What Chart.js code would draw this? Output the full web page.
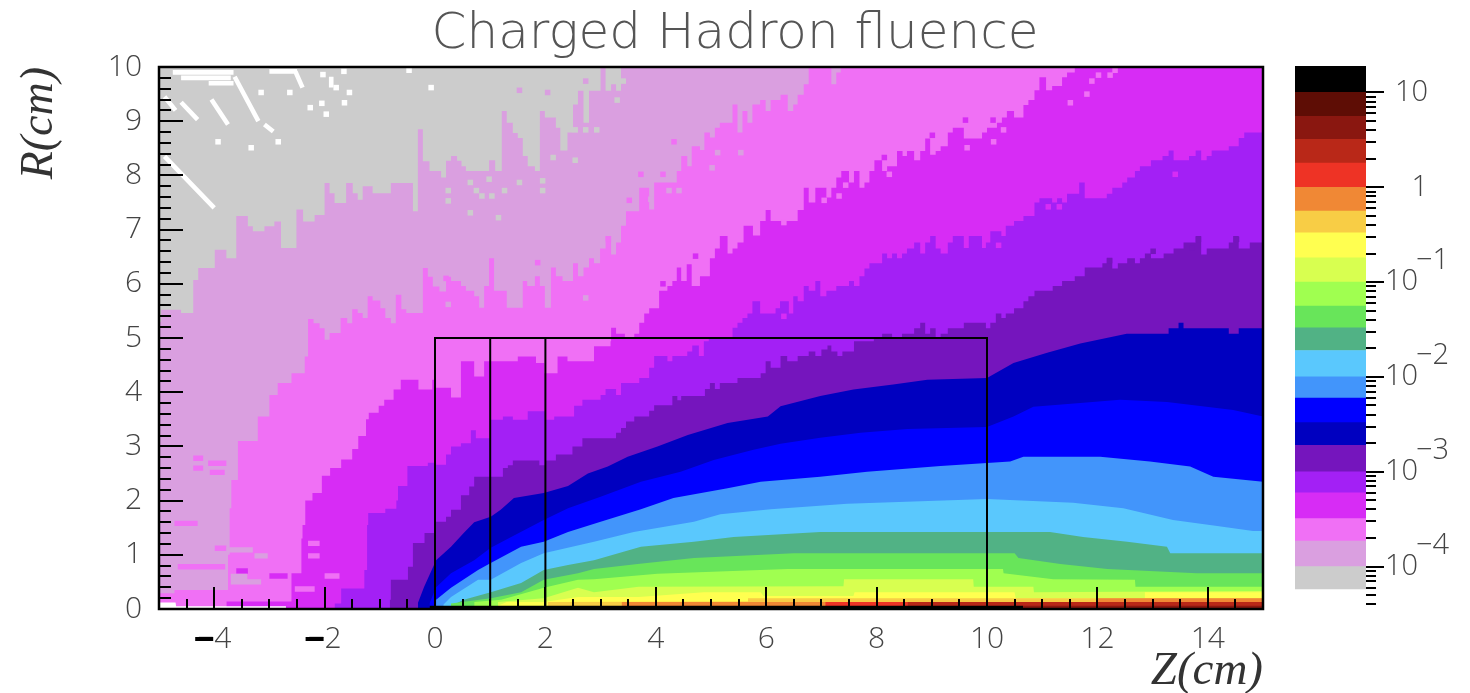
<!DOCTYPE html>
<html><head><meta charset="utf-8">
<style>html,body{margin:0;padding:0;background:#fff;overflow:hidden}
#m,#c{position:absolute;top:0}#m{left:0}#c{left:1270px}</style>
<script src="https://cdn.jsdelivr.net/npm/chart.js@4"></script></head>
<body><canvas id="m" width="1470" height="693"></canvas><canvas id="c" width="200" height="693"></canvas>
<script>
const titleText="Charged Hadron fluence";
const zTickValues=[-4,-2,0,2,4,6,8,10,12,14];
const rTickValues=[0,1,2,3,4,5,6,7,8,9,10];
const zMinorTicks=[-4.5,-3.5,-3,-2.5,-1.5,-1,-0.5,0.5,1,1.5,2.5,3,3.5,4.5,5,5.5,6.5,7,7.5,8.5,9,9.5,10.5,11,11.5,12.5,13,13.5,14.5];
const rMinorTicks=[0.2,0.4,0.6,0.8,1.2,1.4,1.6,1.8,2.2,2.4,2.6,2.8,3.2,3.4,3.6,3.8,4.2,4.4,4.6,4.8,5.2,5.4,5.6,5.8,6.2,6.4,6.6,6.8,7.2,7.4,7.6,7.8,8.2,8.4,8.6,8.8,9.2,9.4,9.6,9.8];

// colour levels, low to high
const levelColors=["#cccccc","#da9fe0","#f070f5","#d72cf5","#a320f5","#7515bd","#0000c0","#0000ff","#4295fb","#5ac8fd","#51b285","#68e55a","#a0ff50","#d8ff50","#ffff50","#f8cd45","#f08835","#ee3325","#b92818","#8a1710","#5e0d05","#000000"];
const levelEdges=[5.8e-5,1e-4,1.86e-4,3.2e-4,6e-4,1e-3,1.9e-3,3.3e-3,6e-3,1e-2,1.9e-2,3.3e-2,5.6e-2,0.1,0.18,0.33,0.56,1,1.8,3.2,5.6,10,19];
const barDecades=[10,1,0.1,0.01,0.001,0.0001];
const barDecadeText=["10","1","10","10","10","10"];
const barDecadeExp=["","","−1","−2","−3","−4"];
const barMinor=[9,8,7,6,5,4,3,2,0.9,0.8,0.7,0.6,0.5,0.4,0.3,0.2,0.09,0.08,0.07,0.06,0.05,0.04,0.03,0.02,0.009,0.008,0.007,0.006,0.005,0.004,0.003,0.002,9e-4,8e-4,7e-4,6e-4,5e-4,4e-4,3e-4,2e-4,9e-5,8e-5,7e-5,6e-5,5e-5,4e-5];

// upper edge R(Z) of each fluence level
const zGray=[-5,15], rGray=[10,10];
const zLilac=[-5,-4.96,-4.6,-4.38,-4.29,-3.99,-3.78,-3.6,-3.39,-3.3,-3.09,-2.91,-2.79,-2.51,-2.39,-2.18,-2.0,-1.91,-1.82,-1.61,-1.49,-1.4,-1.31,-1.13,-0.8,-0.4,-0.31,-0.22,-0.1,0.11,0.2,0.29,0.4,0.48,0.56,0.98,1.09,1.21,1.3,1.41,1.5,1.59,1.68,1.81,1.9,1.99,2.19,2.27,2.4,2.5,2.59,2.69,2.79,3.0,3.09,3.19,3.28,3.37,15];
const rLilac=[5.3,5.52,5.46,6.07,6.29,6.63,6.47,7.25,7.06,6.97,7.06,7.15,6.66,7.37,7.15,7.27,7.86,7.67,7.49,7.86,7.67,7.55,7.8,7.67,7.86,7.34,8.85,8.26,8.08,7.96,8.27,8.36,8.27,8.17,8.08,8.28,8.08,9.19,8.97,8.78,8.69,8.36,8.17,8.08,9.19,9.07,8.88,8.46,8.79,9.31,9.56,8.97,9.56,10,9.56,9.68,9.56,10,10];
const zPink=[-5,-4.72,-3.75,-3.72,-3.69,-3.57,-3.21,-3.0,-2.85,-2.6,-2.36,-2.3,-2.2,-2.09,-2.0,-1.91,-1.71,-1.59,-1.5,-1.4,-1.31,-1.22,-1.13,-0.99,-0.9,-0.8,-0.71,-0.61,-0.52,-0.22,-0.13,-0.04,0.08,0.2,0.29,0.47,0.56,0.71,0.8,0.89,0.98,1.07,1.3,1.59,1.67,1.81,1.9,1.99,2.1,2.19,2.31,2.5,2.59,2.69,2.79,2.88,2.99,3.09,3.19,3.28,3.37,3.46,3.7,3.88,3.97,4.38,4.46,4.57,4.65,4.8,4.88,4.98,5.07,5.16,5.39,5.48,5.57,5.66,5.75,5.89,5.99,6.08,6.26,6.39,6.49,6.57,6.68,6.77,7.18,7.27,7.35,15];
const rPink=[0.29,0.35,1.0,1.86,2.38,3.1,3.55,3.95,4.17,4.35,4.66,5.35,5.27,5.18,4.97,5.09,5.37,5.27,5.53,5.46,5.37,5.77,5.69,5.55,5.37,5.27,5.8,5.53,5.46,6.29,6.13,5.95,5.86,6.13,6.05,5.96,5.87,5.77,5.56,5.96,6.47,5.87,5.56,6.05,5.96,6.14,5.96,5.56,6.3,6.14,6.05,6.38,6.14,6.3,6.47,6.38,6.65,6.88,6.54,6.76,7.07,7.34,7.77,7.37,7.87,8.08,8.36,8.17,8.54,8.47,8.79,8.7,8.88,8.97,9.31,8.79,9.19,8.97,9.31,9.39,9.19,9.39,9.49,9.19,9.31,9.49,9.68,10,9.68,9.9,10,10];
const zMagenta=[-3.78,-2.6,-2.42,-2.4,-2.35,-2.22,-2.05,-1.9,-1.7,-1.5,-1.39,-1.25,-1.2,-1.02,-0.92,-0.75,-0.62,-0.3,-0.05,0.02,0.29,0.47,0.71,0.89,1.29,1.5,1.83,1.98,2.22,2.4,2.88,3.18,3.19,3.28,3.44,3.61,3.7,3.79,3.88,4.06,4.21,4.3,4.38,4.46,4.56,4.65,4.8,4.98,5.07,5.16,5.3,5.39,5.48,5.59,5.76,5.89,5.99,6.08,6.57,6.68,6.77,6.89,7.09,7.18,7.27,7.36,7.5,7.59,7.69,7.78,7.87,7.96,8.1,8.19,8.37,8.47,8.55,8.68,8.79,8.88,8.97,9.07,9.16,9.29,9.38,9.58,9.75,9.91,10.0,10.18,10.27,10.36,10.49,10.66,10.75,10.86,10.95,11.07,11.18,11.36,11.45,11.59,15];
const rMagenta=[0.14,0.66,1.3,1.55,2.0,2.14,2.46,2.6,2.76,2.95,3.19,3.5,3.62,3.75,3.86,4.05,4.23,4.05,4.23,4.08,3.9,4.57,4.29,4.57,4.57,4.66,4.54,4.35,4.66,4.57,4.85,4.94,5.19,5.08,4.99,5.08,5.28,5.45,5.55,5.87,5.96,6.05,6.3,6.05,6.36,5.96,6.14,6.47,6.65,6.88,6.56,6.65,6.76,7.07,6.89,7.16,7.36,7.16,7.36,7.77,7.5,7.77,7.59,7.77,7.96,8.08,7.87,8.08,7.77,7.87,8.08,8.28,8.08,8.17,8.45,8.36,8.45,8.28,8.45,8.68,8.38,8.45,8.54,8.79,8.88,8.68,8.68,8.79,8.88,8.97,9.07,9.19,9.07,9.3,9.39,9.57,9.81,9.57,9.65,9.81,9.9,10,10];
const zViolet=[-1.82,-1.7,-1.28,-1.23,-1.21,-0.9,-0.7,-0.67,-0.5,-0.13,0.02,0.2,0.29,0.47,0.65,0.74,1.01,1.23,1.41,1.68,2.01,2.16,2.52,2.67,3.0,3.09,3.28,3.37,3.7,3.88,3.97,4.21,4.3,4.57,4.66,4.78,4.87,4.96,5.39,5.48,5.57,5.66,5.75,5.89,6.17,6.25,6.41,6.49,6.57,6.68,6.77,6.89,6.98,7.09,7.27,7.5,7.59,7.69,7.78,7.87,8.1,8.19,8.28,8.37,8.46,8.55,8.68,8.79,8.88,8.97,9.07,9.16,9.29,9.38,9.58,9.67,9.91,9.98,10.06,10.26,10.34,10.49,10.66,10.86,10.95,11.18,11.27,11.36,11.45,11.67,11.77,12.17,12.27,12.45,12.54,12.68,12.77,12.97,13.18,13.29,13.38,13.66,13.78,13.88,13.98,14.07,14.38,14.56,14.66,15];
const rViolet=[0.1,0.38,0.72,1.55,1.77,1.85,2.0,2.27,2.64,2.7,2.66,2.85,3.0,3.06,3.3,3.15,3.49,3.55,3.49,3.65,3.49,3.55,3.75,3.86,3.95,4.06,3.95,4.17,4.26,4.45,4.67,4.57,4.67,4.75,4.86,4.67,4.94,5.0,5.19,5.28,5.37,5.45,5.68,5.45,5.55,5.68,5.45,5.77,5.68,5.96,5.87,6.05,5.77,5.87,5.96,6.05,5.96,6.14,6.28,6.38,6.56,6.47,6.56,6.47,6.56,6.65,6.76,6.56,6.76,6.88,6.65,6.56,6.76,6.88,6.66,6.88,6.66,6.76,6.97,6.88,7.07,7.16,7.25,7.5,7.58,7.5,7.58,7.5,7.66,7.87,7.58,7.66,7.77,7.87,7.96,8.08,8.17,8.28,8.36,8.46,8.28,8.36,8.46,8.28,8.36,8.46,8.54,8.69,8.79,8.79];
const zDarkViolet=[-0.82,-0.8,-0.49,-0.4,-0.19,0,0.2,0.29,0.47,0.62,0.71,1.23,1.32,1.41,1.89,2.01,2.19,2.49,2.67,3.28,3.37,3.46,3.61,3.88,3.97,4.3,4.39,4.46,4.89,4.98,5.07,5.16,5.48,5.9,5.99,6.08,6.26,6.38,6.57,6.77,6.89,7.0,7.11,7.18,7.29,7.38,7.59,7.95,8.1,8.28,8.46,8.68,8.79,8.88,8.97,9.07,9.16,9.29,9.58,9.98,10.06,10.16,10.26,10.34,10.49,10.66,10.75,10.86,11.19,11.36,11.59,11.77,12.09,12.17,12.27,12.37,12.54,12.68,12.77,12.86,12.97,13.2,13.38,13.56,13.78,13.88,13.98,14.38,14.46,14.56,14.76,15];
const rDarkViolet=[0.17,0.54,0.78,1.22,1.4,1.61,1.7,1.83,2.1,2.26,2.44,2.6,2.65,2.74,2.65,2.74,2.85,3.0,3.15,3.25,3.34,3.46,3.55,3.66,3.76,3.93,3.85,3.93,4.06,4.17,4.06,4.17,4.26,4.35,4.57,4.45,4.67,4.57,4.67,4.75,4.67,4.79,4.86,4.75,4.67,4.75,4.94,5.0,5.08,5.0,5.08,5.18,5.28,5.08,5.18,5.0,5.08,5.18,5.28,5.18,5.28,5.45,5.37,5.45,5.55,5.68,5.77,5.87,5.96,6.05,6.14,6.3,6.38,6.47,6.28,6.38,6.47,6.38,6.47,6.56,6.47,6.56,6.65,6.76,6.88,6.54,6.65,6.76,6.88,6.65,6.76,6.76];
const zNavy=[-0.31,-0.2,0.02,0.29,0.52,0.71,1.01,1.19,1.43,1.97,2.41,2.77,3.13,3.49,4.03,4.58,5.3,6.03,6.26,6.98,7.58,8.3,8.92,10,10.48,11.09,11.69,12.53,13.29,13.29,13.47,13.47,13.56,13.56,14.38,14.38,14.56,14.56,15];
const rNavy=[0.11,0.4,0.9,1.15,1.4,1.6,1.7,1.83,2.05,2.14,2.27,2.5,2.63,2.81,3.0,3.21,3.43,3.55,3.74,3.93,4.05,4.14,4.23,4.26,4.54,4.73,4.9,5.08,5.08,5.18,5.18,5.28,5.28,5.18,5.18,5.08,5.08,5.18,5.18];
const zBlue=[-0.1,0.02,0.29,0.71,1.01,1.38,1.97,2.41,3.0,3.73,4.45,5.05,5.77,6.26,6.98,7.71,8.56,10,10.48,10.84,11.69,12.41,13.26,14.46,15];
const rBlue=[0.1,0.4,0.66,0.9,1.13,1.33,1.64,1.86,2.07,2.35,2.53,2.75,2.94,3.05,3.16,3.25,3.32,3.36,3.55,3.73,3.8,3.86,3.82,3.67,3.55];
const zMidBlue=[0.02,0.29,0.78,1.01,1.56,1.97,2.41,3.0,3.73,4.32,5.3,5.9,6.98,7.83,9.16,10.42,10.66,12.05,12.95,13.68,14.1,15];
const rMidBlue=[0.17,0.39,0.72,0.85,1.15,1.24,1.42,1.61,1.84,2.05,2.23,2.35,2.44,2.53,2.64,2.72,2.81,2.81,2.72,2.63,2.44,2.35];
const zSky=[0.15,0.29,0.78,1.01,1.56,1.97,2.88,3.6,4.69,5.17,6.08,7.47,10,11.56,12.47,13.37,14.17,14.82,15];
const rSky=[0.08,0.22,0.54,0.54,0.85,1.03,1.24,1.42,1.61,1.75,1.84,1.94,2.03,1.96,1.86,1.64,1.53,1.44,1.44];
const zTeal=[0.3,0.52,1.01,1.56,1.97,2.41,2.88,3.73,4.69,5.41,6.98,11.14,11.74,12.54,13.26,13.32,15];
const rTeal=[0.06,0.17,0.31,0.48,0.72,0.81,0.9,1.15,1.24,1.33,1.42,1.42,1.33,1.24,1.15,1.03,1.03];
const zGreen=[0.29,1.01,1.56,1.97,2.59,2.88,3.67,4.69,6.5,10.5,10.57,11.33,12.18,13.8,15];
const rGreen=[0.1,0.2,0.31,0.54,0.66,0.74,0.83,0.94,1.03,1.03,0.94,0.83,0.74,0.66,0.66];
const zLime=[0.71,1.2,1.97,2.59,2.88,4.03,6.39,10.29,10.3,11.2,12.68,12.69,15];
const rLime=[0.13,0.17,0.39,0.54,0.55,0.65,0.74,0.74,0.66,0.55,0.54,0.41,0.41];
const zYellowGreen=[1.14,1.97,2.59,2.88,3.69,7.4,7.41,9.75,9.76,10.84,10.85,15];
const rYellowGreen=[0.13,0.2,0.39,0.31,0.41,0.42,0.55,0.55,0.41,0.41,0.31,0.33];
const zYellow=[1.14,1.3,1.97,2.59,3.69,4.87,5.9,5.95,7.58,7.6,10.5,10.52,12.85,12.86,15];
const rYellow=[0.06,0.13,0.13,0.22,0.22,0.31,0.31,0.24,0.24,0.31,0.31,0.2,0.2,0.31,0.31];
const zGold=[2.04,5.66,5.67,15];
const rGold=[0.13,0.14,0.2,0.2];
const zOrange=[3.38,12.0,12.01,15];
const rOrange=[0.13,0.13,0.2,0.2];
const zRed=[7.07,15], rRed=[0.13,0.13];
const zBrick=[8.56,15], rBrick=[0.13,0.13];
const zMaroon=[10.66,15], rMaroon=[0.06,0.06];
const zBlack=[-0.1,10.66], rBlack=[0.06,0.06];

// empty (white) bins
const zEmptyCells=[-3.93,-3.33,-2.84,-2.26,-2.05,-1.97,-1.64,-1.55,-1.65,-0.47,-0.07,-2.03,-3.15,-2.63,-1.79];
const rEmptyCells=[8.62,8.51,8.62,9.25,9.33,9.13,9.34,9.53,9.92,9.94,9.62,9.86,9.53,9.53,9.62];
const zEmptyStreaks=[-4.75,-3.65,null,-4.6,-3.7,null,-4.1,-3.65,null,-3.63,-3.2,null,-4.05,-3.75,null,-4.6,-4.3,null,-4.9,-4.7,null,-4.9,-4.0,null,-3.09,-2.93,null,-3.0,-2.5,null,-2.53,-2.4,null,-1.88,-1.88];
const rEmptyStreaks=[9.9,9.9,null,9.8,9.8,null,9.7,9.7,null,9.82,9.0,null,9.4,8.94,null,9.35,9.03,null,9.45,9.2,null,8.35,7.4,null,8.94,8.81,null,9.92,9.92,null,9.92,9.62,null,9.82,9.62];
const zEmptyBottom=[-5,-4.7,-4.69,-2.7];
const rEmptyBottom=[0.12,0.12,0.05,0.05];

// isolated bins of another level
const zGraySpots=[0.24,0.24,0.64,1.15,0.75,0.85,1.03,1.26,1.53,1.95,1.95,2.14,2.54,2.54,2.73,2.93,3.3,3.41,0.64,0.98];
const rGraySpots=[7.72,7.53,7.31,7.22,7.72,7.62,7.62,7.72,7.87,7.9,7.72,8.33,8.28,8.84,8.84,8.84,9.39,9.74,7.87,7.93];
const zLilacSpots=[0.24,2.73,4.24,4.42,5.12,5.02,3.91,5.54,2.04,1.53,2.73];
const rLilacSpots=[5.62,5.74,7.72,7.72,8.42,8.14,7.56,8.42,9.53,9.57,9.74];
const zPinkSpots=[3.52,3.14,1.86,0.2,4.13,3.73,4.33,10.12,9.64,8.23,7.44,7.32,7.05,6.32,11.51,11.81,11.9,12.02,12.23,12.32,10.3];
const rPinkSpots=[7.54,6.83,6.39,6.1,8.02,8.02,8.62,8.62,8.51,8.02,7.82,7.62,7.54,7.13,9.34,9.5,9.74,9.85,9.85,9.94,8.84];
const zMagentaSpots=[9.61,10.11,9.01,8.14,4.72,4.13,11.11,11.31,13.41,10.21,6.32];
const rMagentaSpots=[9.02,9.02,8.74,8.33,6.51,6.0,7.42,7.42,8.02,6.71,5.4];
const zDarkVioletSpots=[13.83,14.52,12.22,13.01,13.71];
const rDarkVioletSpots=[6.82,6.82,6.43,6.6,6.66];
const zPinkRuns=[-4.72,-4.3,null,-4.38,-4.2,null,-4.38,-4.2,null,-4.11,-3.78,null,-4.08,-3.81,null,-2.3,-2.09,null,-2.54,-2.18,null,-2.0,-1.73,null,-2.3,-2.09,null,-4.66,-3.8,null,-3.99,-3.78];
const rPinkRuns=[1.58,1.58,null,2.78,2.78,null,2.6,2.6,null,2.69,2.69,null,2.52,2.52,null,0.98,0.98,null,0.37,0.37,null,0.61,0.61,null,1.21,1.21,null,0.78,0.78,null,1.12,1.12];
const zLilacRuns=[-3.27,-3.03,null,-3.78,-3.3,null,-3.7,-3.15,null,-3.7,-3.4];
const rLilacRuns=[0.98,0.98,null,1.09,1.09,null,0.5,0.5,null,0.6,0.6];
const zMagentaRuns=[-3.6,-3.39,null,-3.0,-2.67];
const rMagentaRuns=[0.7,0.7,null,0.61,0.61];

// boxes
const zBox=[0,0,10,10], rBox=[0,5,5,0];
const zWall1=[1,1], rWall1=[0,5];
const zWall2=[2,2], rWall2=[0,5];

const pairs=(z,r)=>z.map((v,i)=>({x:v,y:r[i]}));
const bands=[[zGray,rGray],[zLilac,rLilac],[zPink,rPink],[zMagenta,rMagenta],[zViolet,rViolet],[zDarkViolet,rDarkViolet],[zNavy,rNavy],[zBlue,rBlue],[zMidBlue,rMidBlue],[zSky,rSky],[zTeal,rTeal],[zGreen,rGreen],[zLime,rLime],[zYellowGreen,rYellowGreen],[zYellow,rYellow],[zGold,rGold],[zOrange,rOrange],[zRed,rRed],[zBrick,rBrick],[zMaroon,rMaroon]];
const datasets=bands.map((b,i)=>({data:pairs(b[0],b[1]),backgroundColor:levelColors[i],borderWidth:0,pointRadius:0,fill:'origin',tension:0,stepped:(i>=1&&i<=5)?true:false,order:1000-i}));
const stepBands=[[zLilacRuns,rLilacRuns,levelColors[1]],[zPinkRuns,rPinkRuns,levelColors[2]],[zMagentaRuns,rMagentaRuns,levelColors[3]]];
stepBands.forEach(b=>datasets.push({data:pairs(b[0],b[1]),borderColor:b[2],borderWidth:5.4,pointRadius:0,fill:false,spanGaps:false,order:800}));
[[zGraySpots,rGraySpots,0],[zLilacSpots,rLilacSpots,1],[zPinkSpots,rPinkSpots,2],[zMagentaSpots,rMagentaSpots,3],[zDarkVioletSpots,rDarkVioletSpots,5]].forEach(s=>datasets.push({data:pairs(s[0],s[1]),showLine:false,backgroundColor:levelColors[s[2]],pointStyle:'rect',pointRadius:3.9,borderWidth:0,order:790}));
datasets.push({data:pairs(zBlack,rBlack),backgroundColor:"#000",borderWidth:0,pointRadius:0,fill:'origin',order:700});
datasets.push({data:pairs(zEmptyBottom,rEmptyBottom),backgroundColor:"#fff",borderWidth:0,pointRadius:0,fill:'origin',order:600});
datasets.push({data:pairs(zEmptyStreaks,rEmptyStreaks),borderColor:"#fff",borderWidth:4.6,pointRadius:0,fill:false,spanGaps:false,order:500});
datasets.push({data:pairs(zEmptyCells,rEmptyCells),showLine:false,backgroundColor:"#fff",pointStyle:'rect',pointRadius:3.9,borderWidth:0,order:400});
[[zBox,rBox],[zWall1,rWall1],[zWall2,rWall2]].forEach((b,i)=>datasets.push({data:pairs(b[0],b[1]),borderColor:"#000",borderWidth:2,pointRadius:0,fill:false,order:100+i}));

const thin="'Open Sans'";
const inkPlugin={id:'ink',afterDatasetsDraw(ch){
  const {ctx,chartArea:a,scales:{x,y}}=ch;
  ctx.save();ctx.strokeStyle="#000";
  ctx.lineWidth=2;
  const v=(val,l)=>{const p=Math.round(x.getPixelForValue(val));ctx.beginPath();ctx.moveTo(p,a.bottom);ctx.lineTo(p,a.bottom-l);ctx.stroke();};
  const h=(val,l)=>{const p=Math.round(y.getPixelForValue(val));ctx.beginPath();ctx.moveTo(a.left,p);ctx.lineTo(a.left+l,p);ctx.stroke();};
  zTickValues.forEach(t=>v(t,22));zMinorTicks.forEach(t=>v(t,10));
  rTickValues.forEach(t=>h(t,24));rMinorTicks.forEach(t=>h(t,12));
  ctx.lineWidth=2.5;ctx.strokeRect(a.left,a.top,a.right-a.left,a.bottom-a.top);
  // heavy minus signs of the negative axis labels
  ctx.fillStyle="#000";
  zTickValues.filter(t=>t<0).forEach(t=>ctx.fillRect(x.getPixelForValue(t)-19,637,18,4));
  ctx.restore();
}};
new Chart(document.getElementById('m'),{type:'line',data:{datasets},plugins:[inkPlugin],options:{
  responsive:false,animation:false,devicePixelRatio:1,
  layout:{padding:{left:0,right:0,top:0,bottom:0}},
  plugins:{legend:{display:false},tooltip:{enabled:false},
    title:{display:true,text:titleText,color:"#555",font:{family:"'DejaVu Sans'",size:50,weight:200,lineHeight:1},padding:{top:10,bottom:7}}},
  scales:{
    x:{type:'linear',min:-5,max:15,grid:{display:false},border:{display:false},
      afterFit(s){s.height=84;},
      afterBuildTicks(s){s.ticks=zTickValues.map(value=>({value}));},
      ticks:{color:"#444",padding:4,maxRotation:0,autoSkip:false,font:{family:thin,size:30,weight:300},callback:v=>String(v).replace('-','−')},
      title:{display:true,text:"Z(cm)",align:'end',color:"#333",font:{family:"'Liberation Serif'",style:'italic',size:47,lineHeight:0.9},padding:{top:0,bottom:0}}},
    y:{type:'linear',min:0,max:10,grid:{display:false},border:{display:false},
      afterFit(s){s.width=159;},
      afterBuildTicks(s){s.ticks=rTickValues.map(value=>({value}));},
      ticks:{color:"#444",padding:9,autoSkip:false,font:{family:thin,size:30,weight:300}},
      title:{display:true,text:"R(cm)",align:'end',color:"#333",font:{family:"'Liberation Serif'",style:'italic',size:46,lineHeight:1},padding:{top:17,bottom:0}}},
    pad:{type:'linear',position:'right',afterFit(s){s.width=207;},grid:{display:false},border:{display:false},ticks:{display:false}}
  }}});

const barPlugin={id:'barInk',afterDatasetsDraw(ch){
  const {ctx,chartArea:a,scales:{y}}=ch;
  ctx.save();ctx.strokeStyle="#000";ctx.lineWidth=2;
  const t=(val,l)=>{const p=Math.round(y.getPixelForValue(val));ctx.beginPath();ctx.moveTo(a.right,p);ctx.lineTo(a.right+l,p);ctx.stroke();};
  barMinor.forEach(v=>t(v,10));barDecades.forEach(v=>t(v,18));
  ctx.fillStyle="#444";ctx.textBaseline='middle';ctx.font="300 29px "+thin;
  barDecades.forEach((v,i)=>{
    const p=y.getPixelForValue(v),hasExp=barDecadeExp[i]!=="";
    ctx.textAlign='right';ctx.fillText(barDecadeText[i],a.right+(hasExp?52:62),p);
    if(hasExp){ctx.textAlign='left';ctx.fillText(barDecadeExp[i],a.right+50,p-21);}
  });
  ctx.restore();
}};
new Chart(document.getElementById('c'),{type:'bar',
  data:{labels:['fluence'],datasets:levelColors.map((c,i)=>({data:[[levelEdges[i],levelEdges[i+1]]],backgroundColor:c,borderWidth:0,barPercentage:1,categoryPercentage:1,grouped:false}))},
  plugins:[barPlugin],
  options:{responsive:false,animation:false,devicePixelRatio:1,
    layout:{padding:{left:25,right:0,top:66,bottom:84}},
    plugins:{legend:{display:false},tooltip:{enabled:false}},
    scales:{x:{display:false},
      y:{type:'logarithmic',position:'right',min:3.57e-5,max:19,afterFit(s){s.width=104;},grid:{display:false},border:{display:false},ticks:{display:false}}}}});
</script></body></html>
